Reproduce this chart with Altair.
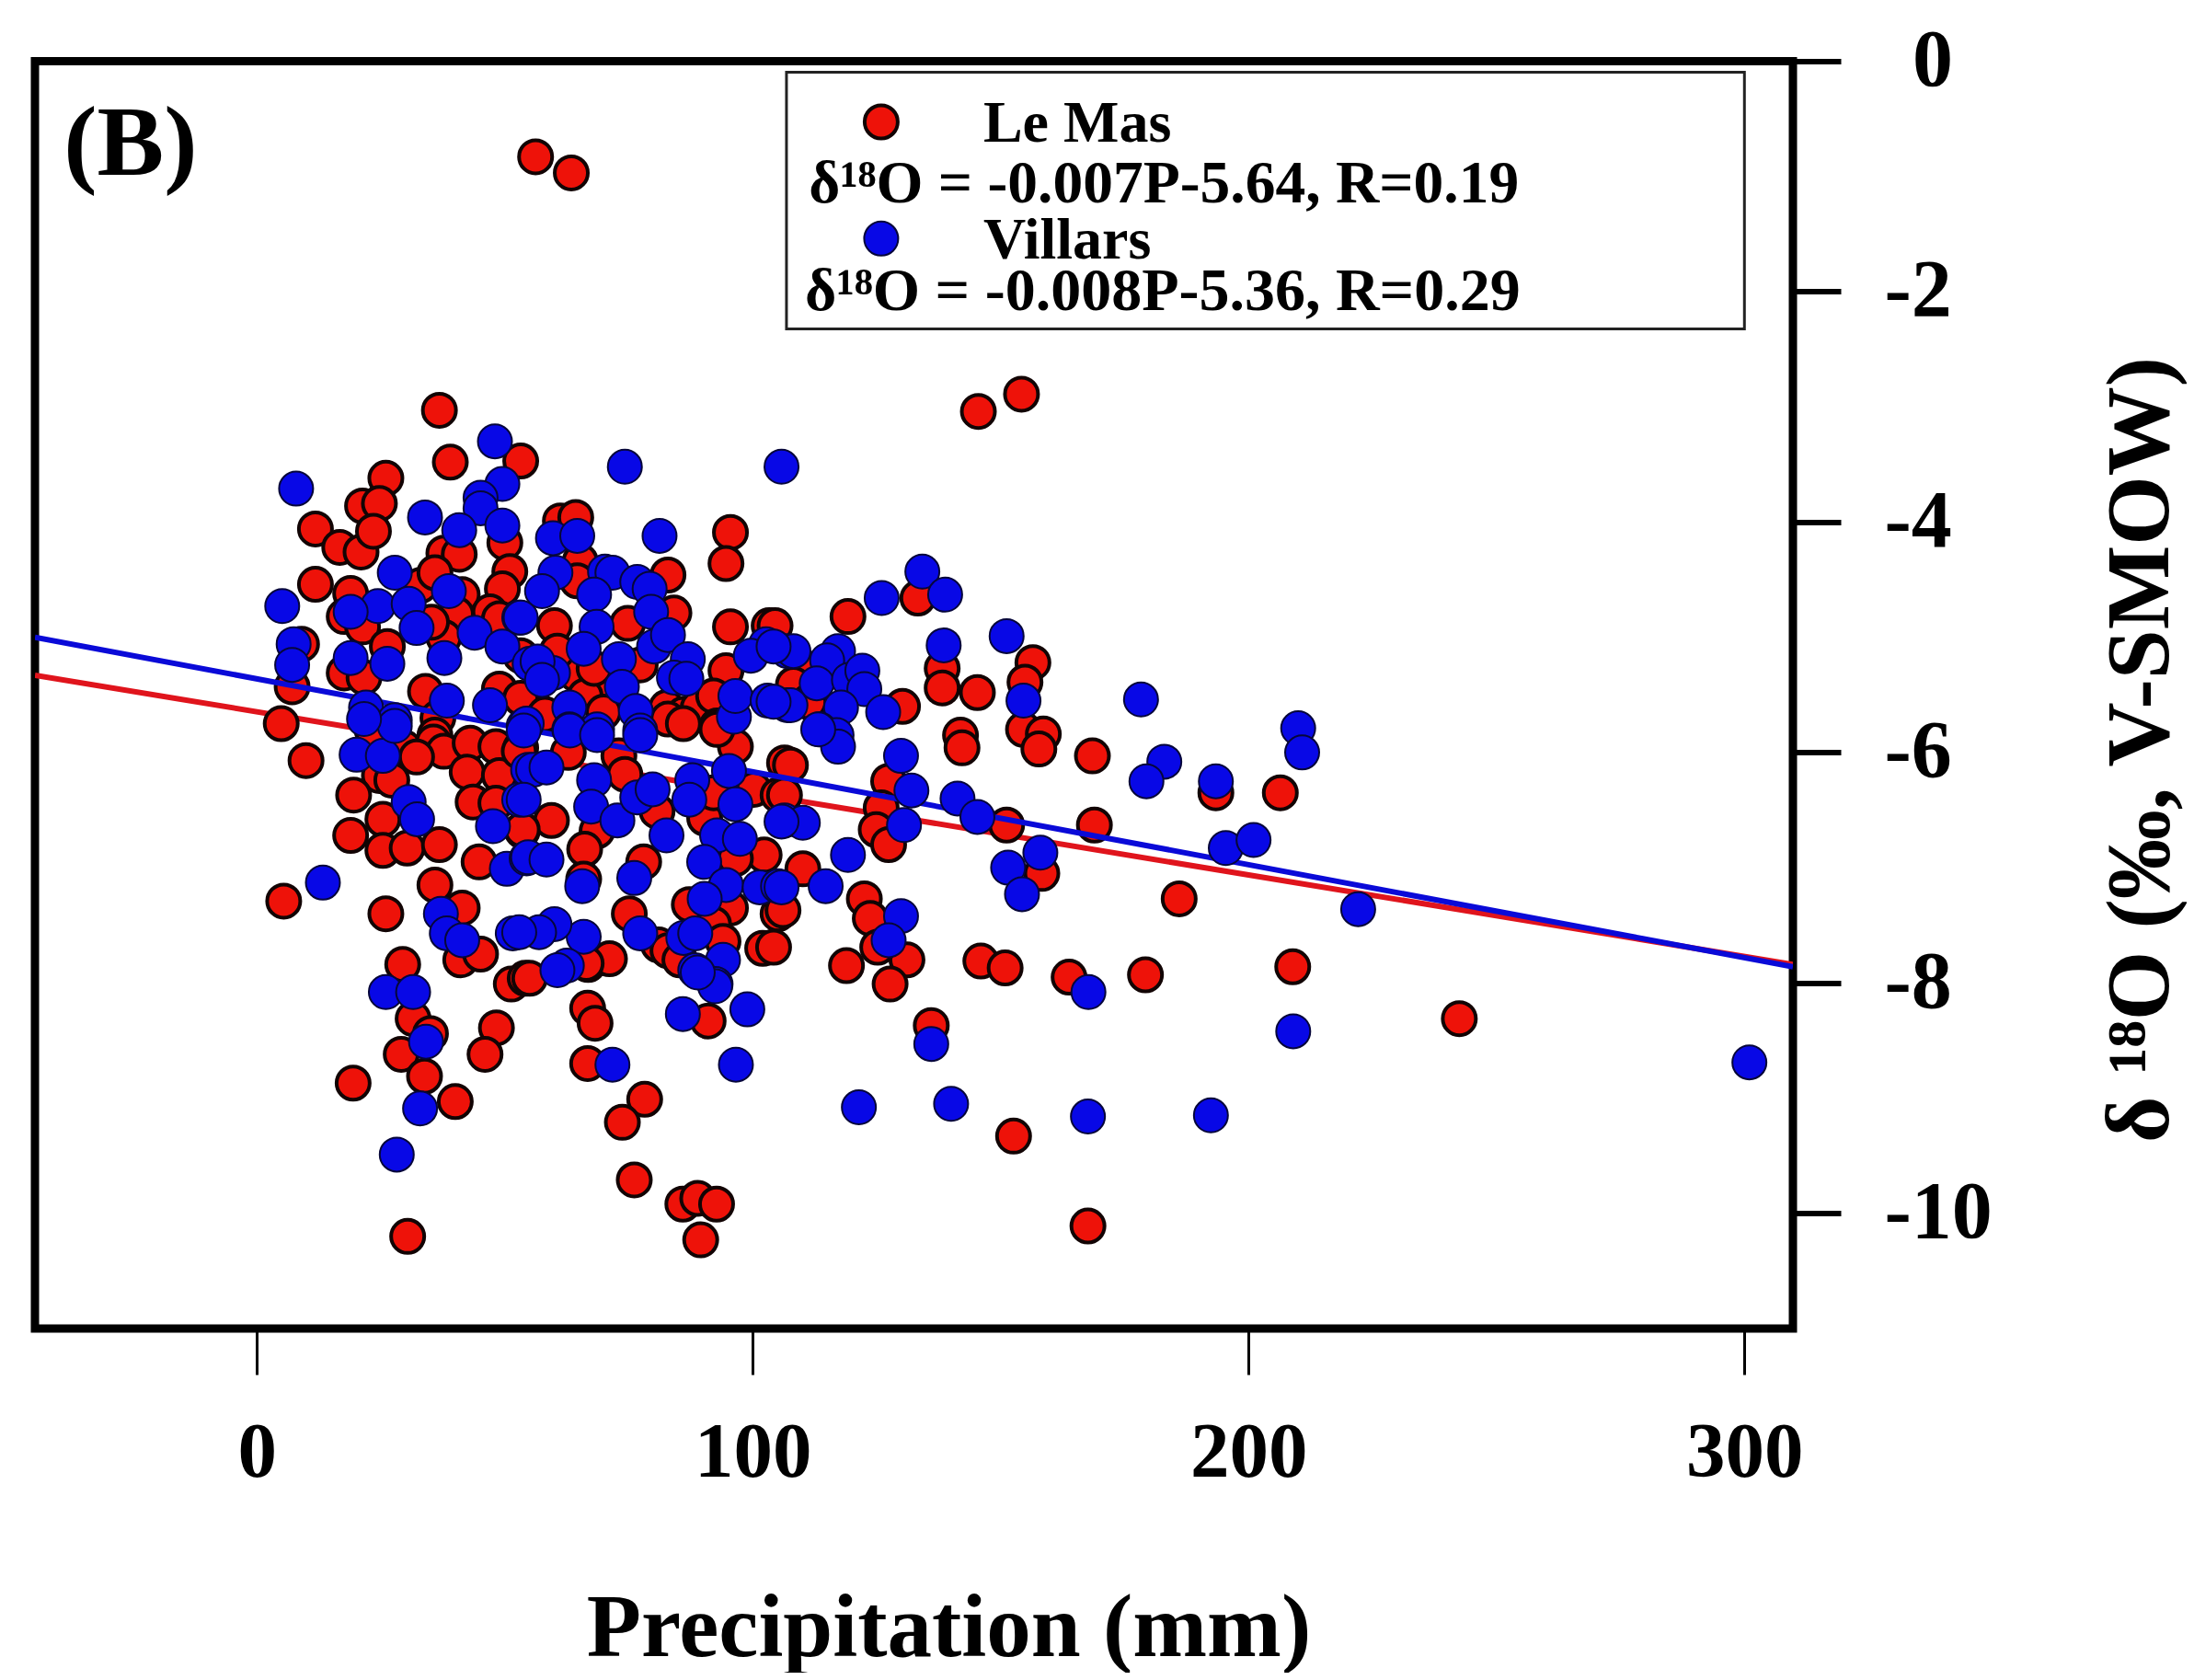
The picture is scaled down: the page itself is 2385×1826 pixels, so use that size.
import altair as alt
import pandas as pd

red_x = [56.2,63.4,36.8,145.5,154.2,
 26.0,39.0,53.2,21.3,24.7,11.8,16.7,21.0,23.5,37.7,40.8,50.0,51.0,49.5,11.8,18.9,17.6,21.3,33.0,35.9,41.4,40.2,37.7,35.2,47.0,48.9,53.2,9.0,26.3,17.6,21.6,7.1,34.0,36.5,48.9,53.2,4.9,23.2,35.9,
 61.2,64.3,95.5,94.6,82.9,65.2,64.6,60.0,74.8,95.5,103.3,94.6,82.6,86.0,89.0,92.1,64.3,68.6,66.2,68.0,60.6,69.9,77.3,58.1,84.1,92.8,
 119.2,133.3,104.5,156.5,138.2,138.2,145.3,154.9,130.2,110.7,108.2,111.3,154.6,158.6,141.9,
 9.9,29.7,35.6,37.7,43.0,48.2,32.2,42.4,48.9,24.7,27.2,19.5,43.6,48.2,25.4,18.9,25.4,30.3,36.8,44.8,53.5,35.9,5.4,26.0,41.4,41.1,45.1,29.4,51.3,54.1,53.2,
 96.5,106.4,92.8,82.9,86.0,73.0,62.8,52.9,74.2,100.2,105.1,90.3,80.7,92.1,59.4,53.5,68.6,66.1,102.3,96.5,78.0,87.2,95.5,105.1,65.9,75.1,81.0,82.9,92.1,94.0,102.0,55.0,66.8,71.1,85.3,
 107.6,106.4,142.2,157.7,127.4,125.9,124.9,127.4,151.2,158.3,110.1,106.1,122.5,123.7,131.1,125.2,118.9,127.7,146.0,150.9,104.2,
 168.5,168.9,193.4,206.4,186.0,163.8,179.2,208.9,136.0,242.5,152.6,167.6,
 31.5,35.0,66.4,66.7,68.2,48.3,46.0,29.1,33.8,19.4,40.0,66.7,78.2,73.7,76.1,85.9,88.9,92.7,89.5,30.4,91.0]
red_y = [-0.83,-0.97,-3.03,-3.04,-2.89,
 -3.62,-3.48,-3.47,-3.86,-3.84,-4.06,-4.22,-4.26,-4.08,-4.27,-4.28,-4.18,-4.43,-4.58,-4.54,-4.62,-4.82,-4.91,-4.55,-4.44,-4.63,-4.80,-5.00,-4.87,-4.78,-4.84,-5.16,-5.06,-5.08,-5.31,-5.35,-5.43,-5.47,-5.70,-5.45,-5.53,-5.75,-5.80,-5.85,
 -3.99,-3.96,-4.09,-4.36,-4.46,-4.34,-4.51,-4.90,-4.88,-4.91,-4.90,-5.29,-5.61,-5.67,-5.61,-5.51,-5.32,-5.40,-5.51,-5.27,-5.12,-5.65,-5.24,-5.67,-4.79,-5.77,
 -4.82,-4.66,-4.90,-5.22,-5.27,-5.44,-5.48,-5.39,-5.60,-5.27,-5.41,-5.56,-5.80,-5.84,-5.85,
 -6.07,-5.96,-5.91,-5.99,-5.92,-5.95,-6.04,-6.17,-6.20,-6.20,-6.24,-6.37,-6.43,-6.44,-6.58,-6.72,-6.85,-6.83,-6.80,-6.95,-6.68,-7.15,-7.29,-7.40,-7.35,-7.80,-7.75,-7.84,-8.01,-7.96,-5.96,
 -5.95,-6.09,-5.80,-5.71,-5.75,-6.03,-6.00,-5.99,-6.19,-6.32,-6.37,-6.57,-6.51,-6.35,-6.59,-6.67,-6.68,-6.84,-6.89,-6.92,-6.95,-7.32,-7.35,-7.40,-7.10,-7.40,-7.67,-7.72,-7.49,-7.64,-7.70,-7.96,-7.84,-7.79,-7.80,
 -6.11,-6.37,-5.96,-5.97,-6.25,-6.48,-6.67,-6.80,-6.63,-7.05,-7.01,-7.37,-7.27,-7.44,-7.80,-7.69,-7.85,-8.01,-7.81,-7.87,-7.69,
 -6.03,-6.63,-6.35,-6.35,-7.27,-7.95,-7.93,-7.86,-8.37,-8.31,-9.33,-10.11,
 -8.31,-8.44,-7.83,-8.22,-8.35,-8.39,-8.62,-8.62,-8.81,-8.87,-9.03,-8.70,-9.01,-9.21,-9.71,-9.92,-9.87,-9.92,-10.23,-10.20,-8.33]

blue_x = [48.0,7.9,33.9,49.5,45.1,45.1,40.8,49.5,27.8,5.1,38.7,24.4,30.6,18.9,32.2,43.9,52.9,49.5,37.8,7.4,7.1,18.9,26.3,22.0,38.3,47.0,27.8,53.8,55.0,
 74.2,105.8,59.7,64.6,81.2,60.2,57.5,70.2,71.7,68.0,76.7,79.2,79.5,53.2,68.5,65.9,80.1,82.9,86.9,102.7,99.6,107.0,73.0,59.7,56.6,57.5,73.6,84.1,86.6,63.0,76.4,54.4,63.0,68.6,77.3,96.2,96.5,103.0,107.0,
 134.2,138.8,126.0,138.5,151.2,108.2,104.2,117.2,115.0,112.9,119.4,122.1,122.5,117.8,107.6,104.2,126.3,154.6,113.5,116.9,
 20.1,25.4,27.8,21.6,30.6,32.3,47.6,52.9,54.7,50.4,54.4,13.3,37.1,38.3,41.4,51.6,26.0,31.5,
 53.8,63.1,68.6,77.3,55.7,58.4,68.0,53.8,67.4,72.7,76.7,79.8,87.8,87.2,95.2,96.5,106.4,82.6,92.8,97.4,54.7,58.4,90.2,65.6,76.1,94.6,90.3,101.4,105.1,77.3,86.0,88.4,65.9,60.0,56.9,52.9,62.5,60.6,94.0,88.4,92.5,
 117.2,113.2,129.9,132.0,141.3,145.3,130.5,110.1,105.8,119.2,105.8,114.7,151.5,154.3,158.0,129.9,127.4,
 178.3,183.0,179.4,193.4,210.0,210.8,195.4,201.0,222.1,209.0,301.0,167.6,192.4,140.0,136.0,167.7,
 34.1,71.7,85.9,98.9,96.6,121.4,32.9,28.2,92.4,88.9]
blue_y = [-3.30,-3.71,-3.96,-3.67,-3.79,-3.88,-4.07,-4.03,-4.44,-4.73,-4.60,-4.73,-4.71,-4.78,-4.92,-4.96,-4.83,-5.08,-5.18,-5.06,-5.24,-5.18,-5.23,-5.61,-5.55,-5.59,-5.72,-5.77,-5.23,
 -3.52,-3.52,-4.14,-4.12,-4.12,-4.44,-4.60,-4.43,-4.44,-4.63,-4.52,-4.58,-4.78,-4.83,-4.91,-5.10,-5.08,-4.98,-5.19,-5.06,-5.16,-5.12,-5.19,-5.31,-5.21,-5.37,-5.43,-5.35,-5.36,-5.61,-5.64,-5.75,-5.80,-5.80,-5.81,-5.69,-5.51,-5.55,-5.59,
 -4.43,-4.63,-4.66,-5.07,-4.99,-5.12,-5.08,-5.12,-5.20,-5.40,-5.37,-5.29,-5.45,-5.61,-5.59,-5.56,-5.65,-5.55,-5.80,-5.85,
 -6.02,-6.03,-5.77,-5.71,-6.43,-6.58,-6.64,-6.41,-6.15,-7.01,-6.92,-7.13,-7.40,-7.57,-7.63,-7.57,-8.08,-8.08,
 -5.81,-5.81,-5.85,-5.85,-6.15,-6.13,-6.24,-6.41,-6.47,-6.59,-6.39,-6.32,-6.24,-6.41,-6.16,-6.45,-6.59,-6.72,-6.72,-6.75,-6.91,-6.93,-6.95,-7.16,-7.09,-7.15,-7.27,-7.17,-7.16,-7.57,-7.61,-7.57,-7.60,-7.49,-7.56,-7.56,-7.85,-7.89,-7.80,-7.89,-8.01,
 -5.95,-5.80,-6.03,-6.33,-6.40,-6.56,-6.63,-6.61,-6.60,-6.89,-7.17,-7.16,-7.00,-7.23,-6.87,-7.42,-7.63,
 -5.54,-6.08,-6.25,-6.25,-5.79,-6.00,-6.83,-6.76,-7.36,-8.42,-8.69,-9.16,-9.15,-9.05,-8.53,-8.08,
 -8.51,-8.71,-8.27,-8.23,-8.71,-9.08,-9.09,-9.49,-8.03,-7.91]

line_x = [-44.77, 309.78]
red_line_y = [-5.33, -7.84]
blue_line_y = [-5.0, -7.86]

x_ticks = [0, 100, 200, 300]
y_ticks = [0, -2, -4, -6, -8, -10]
x_domain = [-44.77, 309.78]
y_domain = [-11.0, 0.0]

legend_box = {"x": [106.8], "x2": [300.0], "y": [-0.096], "y2": [-2.324]}
legend_marker_x = [125.9, 125.9]
legend_marker_y = [-0.527, -1.54]
legend_text = ["Le Mas", "δ¹⁸O = -0.007P-5.64, R=0.19", "Villars", "δ¹⁸O = -0.008P-5.36, R=0.29"]
legend_text_x = [146.5, 111.3, 146.5, 110.5]
legend_text_y = [-0.55, -1.07, -1.56, -2.0]
legend_text_size = [64, 65.5, 64, 66]

RED = "#ee1209"
BLUE = "#0808e6"
FONT = "Liberation Serif"

x_scale = alt.Scale(domain=x_domain, nice=False, zero=False)
y_scale = alt.Scale(domain=y_domain, nice=False, zero=False)

x_axis = alt.Axis(values=x_ticks, grid=False, domain=False, tickSize=50, tickWidth=3, tickColor="black",
                  labelFont=FONT, labelFontWeight="bold", labelFontSize=85, labelColor="black",
                  labelPadding=43, labelBaseline="top", labelFlush=False, labelOverlap=False,
                  title="Precipitation (mm)", titleFont=FONT, titleFontWeight="bold", titleFontSize=97,
                  titleColor="black", titleX=993, titleY=326, titleBaseline="middle", titleAlign="center")
y_axis = alt.Axis(orient="right", values=y_ticks, grid=False, domain=False, tickSize=52, tickWidth=6, tickColor="black",
                  labelFont=FONT, labelFontWeight="bold", labelFontSize=88, labelColor="black",
                  labelPadding=47, labelAlign="left", labelBaseline="middle", labelFlush=False, labelOverlap=False,
                  labelExpr="datum.value == 0 ? '' : '' + datum.value",
                  title="δ ¹⁸O (‰, V-SMOW)", titleFont=FONT, titleFontWeight="bold", titleFontSize=97,
                  titleColor="black", titleAngle=270, titleX=378, titleY=748, titleBaseline="middle", titleAlign="center")

X = alt.X("x:Q", scale=x_scale, axis=x_axis)
Y = alt.Y("y:Q", scale=y_scale, axis=y_axis)

def points(xs, ys, fill, stroke, sw, size):
    df = pd.DataFrame({"x": xs, "y": ys})
    return alt.Chart(df).mark_circle(color=fill, stroke=stroke, strokeWidth=sw, opacity=1, size=size, clip=True).encode(x=X, y=Y)

def line(xs, ys, color):
    df = pd.DataFrame({"x": xs, "y": ys})
    return alt.Chart(df).mark_line(color=color, strokeWidth=6, clip=True).encode(x=X, y=Y)

box = alt.Chart(pd.DataFrame(legend_box)).mark_rect(fill="white", stroke="#222222", strokeWidth=3).encode(
    x=X, x2="x2:Q", y=Y, y2="y2:Q")

panel = alt.Chart(pd.DataFrame({"x": [-25.5], "y": [-0.72], "t": ["(B)"]})).mark_text(
    font=FONT, fontWeight="bold", fontSize=109, color="black", align="center", baseline="middle").encode(
    x=X, y=Y, text="t:N")

zero_label = alt.Chart(pd.DataFrame({"x": [338.0], "y": [0.0], "t": ["0"]})).mark_text(
    font=FONT, fontWeight="bold", fontSize=88, color="black", align="center", baseline="middle").encode(
    x=X, y=Y, text="t:N")

legend_df = pd.DataFrame({"x": legend_text_x, "y": legend_text_y, "t": legend_text, "s": legend_text_size})
legend_labels = alt.Chart(legend_df).mark_text(
    font=FONT, fontWeight="bold", color="black", align="left", baseline="middle").encode(
    x=X, y=Y, text="t:N", size=alt.Size("s:Q", scale=None, legend=None))

chart = alt.layer(
    line(line_x, red_line_y, "#e0141c"),
    points(red_x, red_y, RED, "#120404", 4, 1296),
    line(line_x, blue_line_y, "#0a0ad8"),
    points(blue_x, blue_y, BLUE, "#06063a", 2, 1369),
    box,
    points(legend_marker_x[:1], legend_marker_y[:1], RED, "#120404", 4, 1296),
    points(legend_marker_x[1:], legend_marker_y[1:], BLUE, "#06063a", 2, 1369),
    legend_labels,
    panel,
    zero_label,
).properties(
    width=1911, height=1377.5,
    padding={"left": 30, "top": 58.5, "right": 428, "bottom": 374},
    autosize=alt.AutoSizeParams(type="none"),
    background="white",
).configure_view(stroke="black", strokeWidth=9)

chart.save("out.html", embed_options={"renderer": "svg", "actions": False})
